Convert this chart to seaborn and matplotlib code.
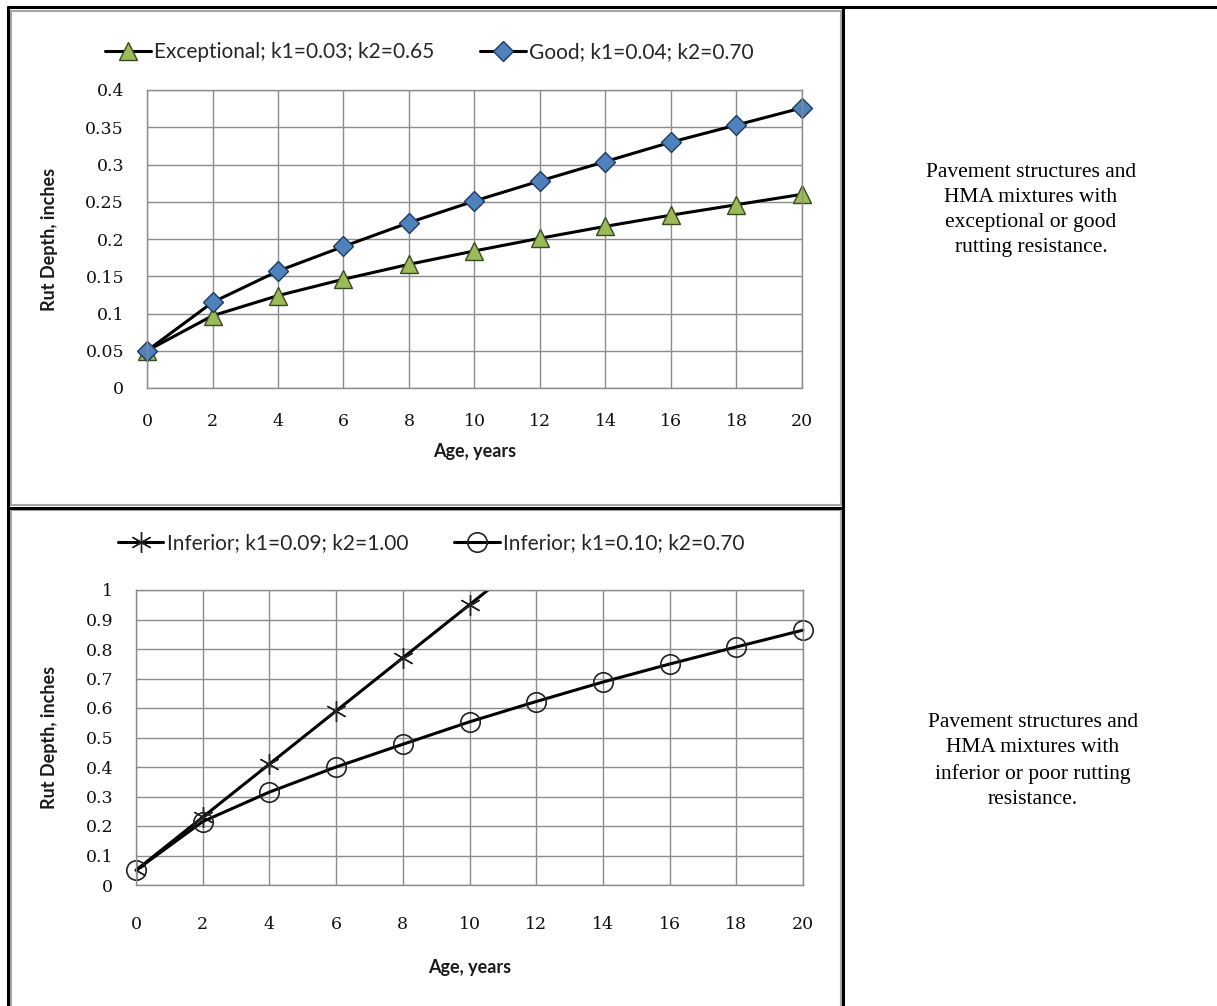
import matplotlib
matplotlib.use("Agg")
import matplotlib.pyplot as plt
from matplotlib.lines import Line2D
from matplotlib.patches import Rectangle
import seaborn as sns
import pandas as pd

# ---- data -------------------------------------------------------------
age = [0, 2, 4, 6, 8, 10, 12, 14, 16, 18, 20]

exceptional = [0.050, 0.097, 0.124, 0.146, 0.166, 0.184, 0.201, 0.217, 0.232, 0.246, 0.260]
good = [0.050, 0.115, 0.157, 0.190, 0.222, 0.251, 0.278, 0.304, 0.330, 0.353, 0.376]

inferior_a = [0.05, 0.23, 0.41, 0.59, 0.77, 0.95, 1.13, 1.31, 1.49, 1.67, 1.85]
inferior_b = [0.050, 0.215, 0.315, 0.400, 0.477, 0.553, 0.622, 0.688, 0.749, 0.807, 0.864]

labels_top = ["Exceptional; k1=0.03; k2=0.65", "Good; k1=0.04; k2=0.70"]
labels_bottom = ["Inferior; k1=0.09; k2=1.00", "Inferior; k1=0.10; k2=0.70"]

x_ticks = [0, 2, 4, 6, 8, 10, 12, 14, 16, 18, 20]
y_ticks_top = [0, 0.05, 0.1, 0.15, 0.2, 0.25, 0.3, 0.35, 0.4]
y_ticks_bottom = [0, 0.1, 0.2, 0.3, 0.4, 0.5, 0.6, 0.7, 0.8, 0.9, 1.0]

note_top = "Pavement structures and\nHMA mixtures with\nexceptional or good\nrutting resistance."
note_bottom = "Pavement structures and\nHMA mixtures with\ninferior or poor rutting\nresistance."

# ---- figure -----------------------------------------------------------
sns.set_theme(style="white")
plt.rcParams["font.family"] = ["Lato", "DejaVu Sans"]

W, H = 1217, 1006
fig = plt.figure(figsize=(W / 100, H / 100), dpi=100)
fig.patch.set_facecolor("white")


def px_axes(left, top, right, bottom):
    return fig.add_axes([left / W, 1 - bottom / H, (right - left) / W, (bottom - top) / H])


def fig_line(x0, y0, x1, y1, color="black", lw=2.0):
    fig.add_artist(Line2D([x0 / W, x1 / W], [1 - y0 / H, 1 - y1 / H],
                          color=color, lw=lw, transform=fig.transFigure,
                          solid_capstyle="butt"))


def fig_rect(x0, y0, x1, y1, color="#a6a6a6", lw=1.5):
    fig.add_artist(Rectangle((x0 / W, 1 - y1 / H), (x1 - x0) / W, (y1 - y0) / H,
                             fill=False, edgecolor=color, lw=lw,
                             transform=fig.transFigure))


GRID = "#8c8c8c"
TICK_FONT = dict(family="DejaVu Serif", size=12.5)
LEGEND_FONT = dict(family="Lato", size=15)


def style_axes(ax, yticks, ylim, xtick_pad=12, xlabel_pad=14):
    ax.set_xlim(0, 20)
    ax.set_ylim(*ylim)
    ax.set_xticks(x_ticks)
    ax.set_yticks(yticks)
    ax.set_xticklabels([str(t) for t in x_ticks], fontdict=TICK_FONT, color="#111111")
    ax.set_yticklabels([f"{t:g}" for t in yticks], fontdict=TICK_FONT, color="#111111")
    ax.grid(True, color=GRID, lw=1.0)
    ax.set_axisbelow(True)
    for sp in ax.spines.values():
        sp.set_color(GRID)
        sp.set_linewidth(1.0)
        sp.set_visible(True)
    ax.tick_params(axis="both", which="major", direction="out", length=6,
                   width=1.0, color=GRID)
    ax.tick_params(axis="y", pad=10.5)
    ax.tick_params(axis="x", pad=xtick_pad)
    ax.set_xlabel("Age, years", fontsize=13, fontweight="bold", color="#1a1a1a",
                  labelpad=xlabel_pad)
    ax.set_ylabel("Rut Depth, inches", fontsize=13, fontweight="bold", color="#1a1a1a")


def draw_legend(ax, center_x, center_y):
    ax.legend(loc="center", bbox_to_anchor=(center_x / W, (H - center_y) / H),
              bbox_transform=fig.transFigure, ncol=2, frameon=False,
              prop=LEGEND_FONT, columnspacing=2.2,
              handlelength=2.2, handletextpad=0.15)


# ---- top chart --------------------------------------------------------
ax1 = px_axes(147, 90, 802, 388)
df1 = pd.DataFrame({"age": age, "exceptional": exceptional, "good": good})
sns.lineplot(data=df1, x="age", y="exceptional", ax=ax1, color="black", lw=2.2,
             marker="^", markersize=13, markerfacecolor="#9bbb59",
             markeredgecolor="#3a4a20", markeredgewidth=1.0,
             label=labels_top[0], clip_on=False)
sns.lineplot(data=df1, x="age", y="good", ax=ax1, color="black", lw=2.2,
             marker="D", markersize=10.5, markerfacecolor="#4f81bd",
             markeredgecolor="#1f3a5f", markeredgewidth=1.0,
             label=labels_top[1], clip_on=False)
style_axes(ax1, y_ticks_top, (0, 0.4), xtick_pad=12, xlabel_pad=9)
ax1.yaxis.set_label_coords((58 - 147) / 655, 0.5)
draw_legend(ax1, 429, 52)

# ---- bottom chart -----------------------------------------------------
ax2 = px_axes(136, 590, 803, 885)
df2 = pd.DataFrame({"age": age, "inferior_a": inferior_a, "inferior_b": inferior_b})
sns.lineplot(data=df2, x="age", y="inferior_a", ax=ax2, color="black", lw=2.2,
             marker=(6, 2, 0), markersize=15, markeredgecolor="#222222",
             markeredgewidth=1.0, label=labels_bottom[0])
sns.lineplot(data=df2, x="age", y="inferior_b", ax=ax2, color="black", lw=2.2,
             marker="o", markersize=14, markerfacecolor="none",
             markeredgecolor="#222222", markeredgewidth=1.2,
             label=labels_bottom[1], clip_on=False)
style_axes(ax2, y_ticks_bottom, (0, 1.0), xtick_pad=16, xlabel_pad=19)
ax2.yaxis.set_label_coords((58 - 136) / 667, 0.5)
draw_legend(ax2, 431, 543)

# ---- side notes -------------------------------------------------------
fig.text(1031 / W, 1 - 210 / H, note_top, ha="center", va="center",
         family="Liberation Serif", fontsize=15.5, linespacing=1.45, color="black")
fig.text(1033 / W, 1 - 761 / H, note_bottom, ha="center", va="center",
         family="Liberation Serif", fontsize=15.5, linespacing=1.45, color="black")

# ---- table frame and chart borders -------------------------------------
fig_rect(10.5, 10.5, 841, 505)
fig_rect(10.5, 510, 841, 1010)
fig_line(7, 6.5, W, 6.5, lw=2.2)
fig_line(8, 5.5, 8, H, lw=2.2)
fig_line(843, 5.5, 843, H, lw=2.2)
fig_line(8, 507.5, 843, 507.5, lw=2.2)

fig.savefig("out.png", dpi=100, facecolor="white")
